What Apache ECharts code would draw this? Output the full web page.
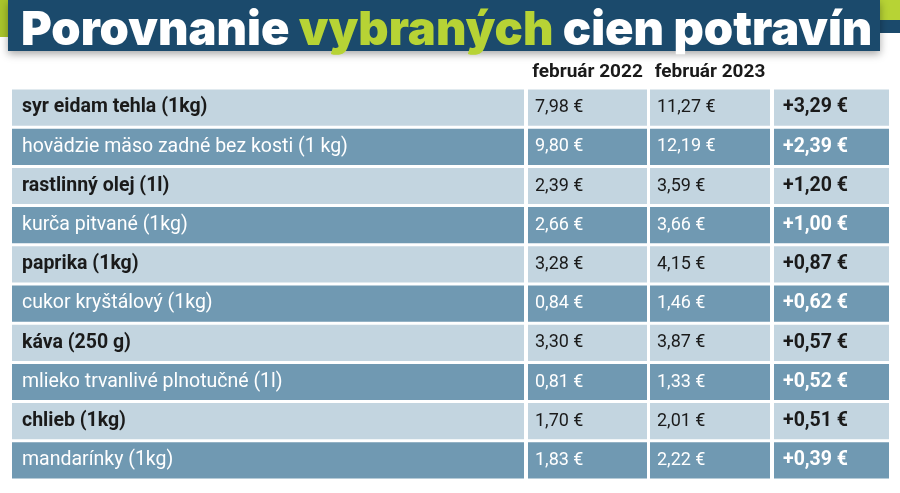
<!DOCTYPE html>
<html>
<head>
<meta charset="utf-8">
<script src="https://cdn.jsdelivr.net/npm/echarts/dist/echarts.min.js"></script>
<style>
  html, body { margin: 0; padding: 0; background: #fff; }
  #main { width: 900px; height: 493px; }
</style>
</head>
<body>
<div id="main"></div>
<script>
// polozky a ceny (EUR)
const items = [
  'syr eidam tehla (1kg)',
  'hovädzie mäso zadné bez kosti (1 kg)',
  'rastlinný olej (1l)',
  'kurča pitvané (1kg)',
  'paprika (1kg)',
  'cukor kryštálový (1kg)',
  'káva (250 g)',
  'mlieko trvanlivé plnotučné (1l)',
  'chlieb (1kg)',
  'mandarínky (1kg)'
]
const feb2022 = [7.98, 9.80, 2.39, 2.66, 3.28, 0.84, 3.30, 0.81, 1.70, 1.83]
const feb2023 = [11.27, 12.19, 3.59, 3.66, 4.15, 1.46, 3.87, 1.33, 2.01, 2.22]
const diff = [3.29, 2.39, 1.20, 1.00, 0.87, 0.62, 0.57, 0.52, 0.51, 0.39]
const headers = ['', 'február 2022', 'február 2023', '']

const FONT = 'Roboto, sans-serif'
const LIGHT = '#c3d5e0'
const DARK = '#7099b2'

const euro = v => v.toFixed(2).replace('.', ',') + ' €'

// stlpce tabulky: text bunky + sirka gridu
const columns = [
  { left: 12, width: 512, pad: 10, size: 19.5, text: i => items[i], bold: true },
  { left: 528, width: 119, pad: 7, size: 18, text: i => euro(feb2022[i]), bold: false },
  { left: 650, width: 120, pad: 7, size: 18, text: i => euro(feb2023[i]), bold: false },
  { left: 774, width: 115, pad: 9, size: 19.5, text: i => '+' + euro(diff[i]), bold: true }
]

const chart = echarts.init(document.getElementById('main'))

const grids = columns.map(c => ({ left: c.left, width: c.width, top: 88, height: 392 }))
const xAxes = columns.map((c, k) => ({
  gridIndex: k,
  type: 'value',
  min: 0,
  max: 1,
  position: 'top',
  name: headers[k],
  nameLocation: 'middle',
  nameGap: 6,
  nameTextStyle: { fontFamily: FONT, fontWeight: 'bold', fontSize: 19, color: '#1a1a1a' },
  axisLine: { show: false },
  axisTick: { show: false },
  axisLabel: { show: false },
  splitLine: { show: false }
}))
const yAxes = columns.map((c, k) => ({
  gridIndex: k,
  type: 'category',
  inverse: true,
  data: items,
  show: false
}))

const series = columns.map((c, k) => ({
  type: 'custom',
  xAxisIndex: k,
  yAxisIndex: k,
  data: items.map((n, i) => [0, i]),
  encode: { x: 0, y: 1 },
  renderItem: function (params, api) {
    const i = params.dataIndex
    const cs = params.coordSys
    const y = api.coord([0, api.value(1)])[1]
    const h = api.size([0, 1])[1]
    const dark = i % 2 === 1
    // v tmavych riadkoch je tucny len rozdiel
    const bold = dark ? (k === 3) : c.bold
    return {
      type: 'group',
      children: [
        {
          type: 'rect',
          shape: { x: cs.x, y: y - h / 2 + 1.5, width: cs.width, height: h - 3 },
          style: { fill: dark ? DARK : LIGHT }
        },
        {
          type: 'text',
          style: {
            x: cs.x + c.pad,
            y: y,
            text: c.text(i),
            fill: dark ? '#ffffff' : '#1a1a1a',
            font: (bold ? 'bold ' : '') + c.size + 'px ' + FONT,
            verticalAlign: 'middle',
            align: 'left'
          }
        }
      ]
    }
  }
}))

const option = {
  backgroundColor: '#ffffff',
  animation: false,
  title: {
    text: '{w|Porovnanie }{g|vybraných}{w| cien potravín}',
    left: 16,
    top: 0,
    textStyle: {
      rich: {
        w: { color: '#ffffff', fontFamily: 'Inter', fontWeight: 900, fontSize: 47, lineHeight: 52 },
        g: { color: '#b7d335', fontFamily: 'Inter', fontWeight: 900, fontSize: 47, lineHeight: 52 }
      }
    }
  },
  graphic: [
    { type: 'rect', z: -1, shape: { x: 0, y: 0, width: 8, height: 37 }, style: { fill: '#a9c52c' } },
    { type: 'rect', z: -1, shape: { x: 880, y: 0, width: 20, height: 20 }, style: { fill: '#b7d335' } },
    { type: 'rect', z: -1, shape: { x: 880, y: 20, width: 20, height: 13 }, style: { fill: '#1b4a6c' } },
    {
      type: 'rect', z: -1,
      shape: { x: 8, y: 0, width: 872, height: 51 },
      style: { fill: '#1b4a6c', shadowBlur: 8, shadowOffsetY: 3, shadowColor: 'rgba(0,0,0,0.35)' }
    }
  ],
  grid: grids,
  xAxis: xAxes,
  yAxis: yAxes,
  series: series
}

chart.setOption(option)
</script>
</body>
</html>
